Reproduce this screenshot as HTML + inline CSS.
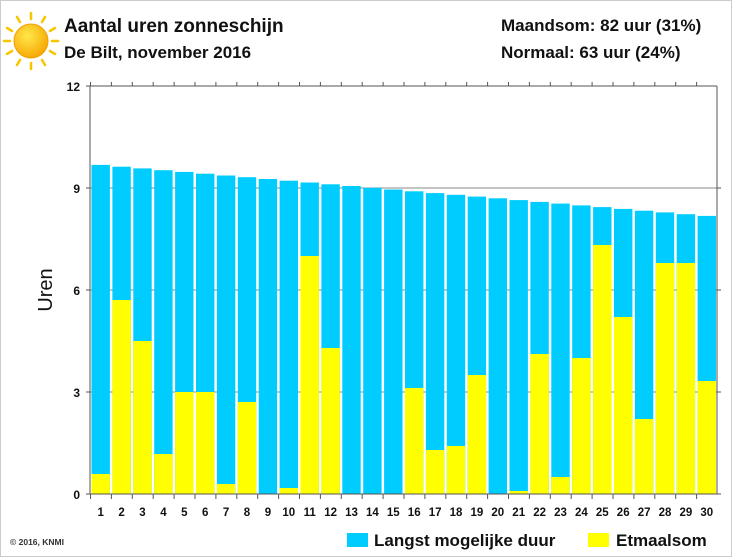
<!DOCTYPE html>
<html><head><meta charset="utf-8"><style>
body{margin:0;background:#fff}
svg{display:block;font-family:"Liberation Sans",Arial,sans-serif}
</style></head><body>
<svg width="732" height="557" viewBox="0 0 732 557" xmlns="http://www.w3.org/2000/svg">
<rect x="0.5" y="0.5" width="731" height="556" fill="#fff" stroke="#ccc"/>
<!-- sun -->
<g stroke="#f7c600" stroke-width="2.5" stroke-linecap="round">
<line x1="31" y1="13" x2="31" y2="19"/><line x1="31" y1="63" x2="31" y2="69"/>
<line x1="4" y1="41" x2="10" y2="41"/><line x1="52" y1="41" x2="58" y2="41"/>
<line x1="17" y1="17" x2="20" y2="22"/><line x1="42" y1="60" x2="45" y2="65"/>
<line x1="45" y1="17" x2="42" y2="22"/><line x1="20" y1="60" x2="17" y2="65"/>
<line x1="7" y1="28" x2="12" y2="31"/><line x1="50" y1="51" x2="55" y2="54"/>
<line x1="7" y1="54" x2="12" y2="51"/><line x1="50" y1="31" x2="55" y2="28"/>
</g>
<defs><radialGradient id="sg" cx="0.4" cy="0.35" r="0.7"><stop offset="0" stop-color="#ffe84a"/><stop offset="1" stop-color="#f6a500"/></radialGradient></defs>
<circle cx="31" cy="41" r="17" fill="url(#sg)" stroke="#f0a000" stroke-width="1"/>
<g font-weight="bold" fill="#111">
<text x="64" y="32" font-size="19">Aantal uren zonneschijn</text>
<text x="64" y="58" font-size="17">De Bilt, november 2016</text>
<text x="501" y="31" font-size="17">Maandsom: 82 uur (31%)</text>
<text x="501" y="58" font-size="17">Normaal: 63 uur (24%)</text>
</g>
<!-- grid -->
<g stroke="#888" stroke-width="1">
<line x1="90" y1="188" x2="717" y2="188"/>
<line x1="90" y1="290" x2="717" y2="290"/>
<line x1="90" y1="392" x2="717" y2="392"/>
</g>
<!-- blue bars -->
<g fill="#00ccff">
<rect x="91.5" y="164.9" width="18.4" height="329.1"/>
<rect x="112.4" y="166.7" width="18.4" height="327.3"/>
<rect x="133.3" y="168.4" width="18.4" height="325.6"/>
<rect x="154.2" y="170.2" width="18.4" height="323.8"/>
<rect x="175.1" y="171.9" width="18.4" height="322.1"/>
<rect x="196.0" y="173.7" width="18.4" height="320.3"/>
<rect x="216.9" y="175.5" width="18.4" height="318.5"/>
<rect x="237.8" y="177.2" width="18.4" height="316.8"/>
<rect x="258.7" y="179.0" width="18.4" height="315.0"/>
<rect x="279.6" y="180.7" width="18.4" height="313.3"/>
<rect x="300.5" y="182.5" width="18.4" height="311.5"/>
<rect x="321.4" y="184.3" width="18.4" height="309.7"/>
<rect x="342.3" y="186.0" width="18.4" height="308.0"/>
<rect x="363.2" y="187.8" width="18.4" height="306.2"/>
<rect x="384.1" y="189.5" width="18.4" height="304.5"/>
<rect x="405.0" y="191.3" width="18.4" height="302.7"/>
<rect x="425.9" y="193.1" width="18.4" height="300.9"/>
<rect x="446.8" y="194.8" width="18.4" height="299.2"/>
<rect x="467.7" y="196.6" width="18.4" height="297.4"/>
<rect x="488.6" y="198.3" width="18.4" height="295.7"/>
<rect x="509.5" y="200.1" width="18.4" height="293.9"/>
<rect x="530.4" y="201.9" width="18.4" height="292.1"/>
<rect x="551.3" y="203.6" width="18.4" height="290.4"/>
<rect x="572.2" y="205.4" width="18.4" height="288.6"/>
<rect x="593.1" y="207.1" width="18.4" height="286.9"/>
<rect x="614.0" y="208.9" width="18.4" height="285.1"/>
<rect x="634.9" y="210.7" width="18.4" height="283.3"/>
<rect x="655.8" y="212.4" width="18.4" height="281.6"/>
<rect x="676.7" y="214.2" width="18.4" height="279.8"/>
<rect x="697.6" y="215.9" width="18.4" height="278.1"/>
</g>
<!-- yellow bars -->
<g fill="#ffff00">
<rect x="91.5" y="474" width="18.4" height="20"/>
<rect x="112.4" y="300" width="18.4" height="194"/>
<rect x="133.3" y="341" width="18.4" height="153"/>
<rect x="154.2" y="454" width="18.4" height="40"/>
<rect x="175.1" y="392" width="18.4" height="102"/>
<rect x="196.0" y="392" width="18.4" height="102"/>
<rect x="216.9" y="484" width="18.4" height="10"/>
<rect x="237.8" y="402" width="18.4" height="92"/>
<rect x="279.6" y="488" width="18.4" height="6"/>
<rect x="300.5" y="256" width="18.4" height="238"/>
<rect x="321.4" y="348" width="18.4" height="146"/>
<rect x="405.0" y="388" width="18.4" height="106"/>
<rect x="425.9" y="450" width="18.4" height="44"/>
<rect x="446.8" y="446" width="18.4" height="48"/>
<rect x="467.7" y="375" width="18.4" height="119"/>
<rect x="509.5" y="491" width="18.4" height="3"/>
<rect x="530.4" y="354" width="18.4" height="140"/>
<rect x="551.3" y="477" width="18.4" height="17"/>
<rect x="572.2" y="358" width="18.4" height="136"/>
<rect x="593.1" y="245" width="18.4" height="249"/>
<rect x="614.0" y="317" width="18.4" height="177"/>
<rect x="634.9" y="419" width="18.4" height="75"/>
<rect x="655.8" y="263" width="18.4" height="231"/>
<rect x="676.7" y="263" width="18.4" height="231"/>
<rect x="697.6" y="381" width="18.4" height="113"/>
</g>
<!-- frame -->
<g stroke="#555" stroke-width="1" fill="none">
<line x1="90" y1="86" x2="717" y2="86"/>
<line x1="90" y1="86" x2="90" y2="494"/>
<line x1="717" y1="86" x2="717" y2="494"/>
<line x1="86" y1="494" x2="721" y2="494"/>
<line x1="86" y1="86" x2="90" y2="86"/>
<line x1="86" y1="188" x2="90" y2="188"/>
<line x1="86" y1="290" x2="90" y2="290"/>
<line x1="86" y1="392" x2="90" y2="392"/>
<line x1="717" y1="188" x2="721" y2="188"/>
<line x1="717" y1="290" x2="721" y2="290"/>
<line x1="717" y1="392" x2="721" y2="392"/>
<path d="M90.5 82v4M111.4 82v4M132.3 82v4M153.2 82v4M174.1 82v4M195 82v4M215.9 82v4M236.8 82v4M257.7 82v4M278.6 82v4M299.5 82v4M320.4 82v4M341.3 82v4M362.2 82v4M383.1 82v4M404 82v4M424.9 82v4M445.8 82v4M466.7 82v4M487.6 82v4M508.5 82v4M529.4 82v4M550.3 82v4M571.2 82v4M592.1 82v4M613 82v4M633.9 82v4M654.8 82v4M675.7 82v4M696.6 82v4"/>
<path d="M90.5 494v5M111.4 494v5M132.3 494v5M153.2 494v5M174.1 494v5M195 494v5M215.9 494v5M236.8 494v5M257.7 494v5M278.6 494v5M299.5 494v5M320.4 494v5M341.3 494v5M362.2 494v5M383.1 494v5M404 494v5M424.9 494v5M445.8 494v5M466.7 494v5M487.6 494v5M508.5 494v5M529.4 494v5M550.3 494v5M571.2 494v5M592.1 494v5M613 494v5M633.9 494v5M654.8 494v5M675.7 494v5M696.6 494v5"/>
</g>
<g font-weight="bold" font-size="12" fill="#111" text-anchor="end">
<text x="80" y="91">12</text><text x="80" y="193">9</text><text x="80" y="295">6</text><text x="80" y="397">3</text><text x="80" y="499">0</text>
</g>
<text transform="translate(52 290) rotate(-90)" font-size="20" text-anchor="middle" fill="#111">Uren</text>
<g font-weight="bold" font-size="11.5" fill="#111" text-anchor="middle">
<text x="100.7" y="516">1</text><text x="121.6" y="516">2</text><text x="142.5" y="516">3</text><text x="163.4" y="516">4</text><text x="184.3" y="516">5</text><text x="205.2" y="516">6</text><text x="226.1" y="516">7</text><text x="247" y="516">8</text><text x="267.9" y="516">9</text><text x="288.8" y="516">10</text><text x="309.7" y="516">11</text><text x="330.6" y="516">12</text><text x="351.5" y="516">13</text><text x="372.4" y="516">14</text><text x="393.3" y="516">15</text><text x="414.2" y="516">16</text><text x="435.1" y="516">17</text><text x="456" y="516">18</text><text x="476.9" y="516">19</text><text x="497.8" y="516">20</text><text x="518.7" y="516">21</text><text x="539.6" y="516">22</text><text x="560.5" y="516">23</text><text x="581.4" y="516">24</text><text x="602.3" y="516">25</text><text x="623.2" y="516">26</text><text x="644.1" y="516">27</text><text x="665" y="516">28</text><text x="685.9" y="516">29</text><text x="706.8" y="516">30</text>
</g>
<text x="10" y="545" font-size="8.5" font-weight="bold" fill="#333">© 2016, KNMI</text>
<rect x="347" y="533" width="21" height="14" fill="#00ccff"/>
<text x="374" y="546" font-size="17" font-weight="bold" fill="#111">Langst mogelijke duur</text>
<rect x="588" y="533" width="21" height="14" fill="#ffff00"/>
<text x="616" y="546" font-size="17" font-weight="bold" fill="#111">Etmaalsom</text>
</svg>
</body></html>
